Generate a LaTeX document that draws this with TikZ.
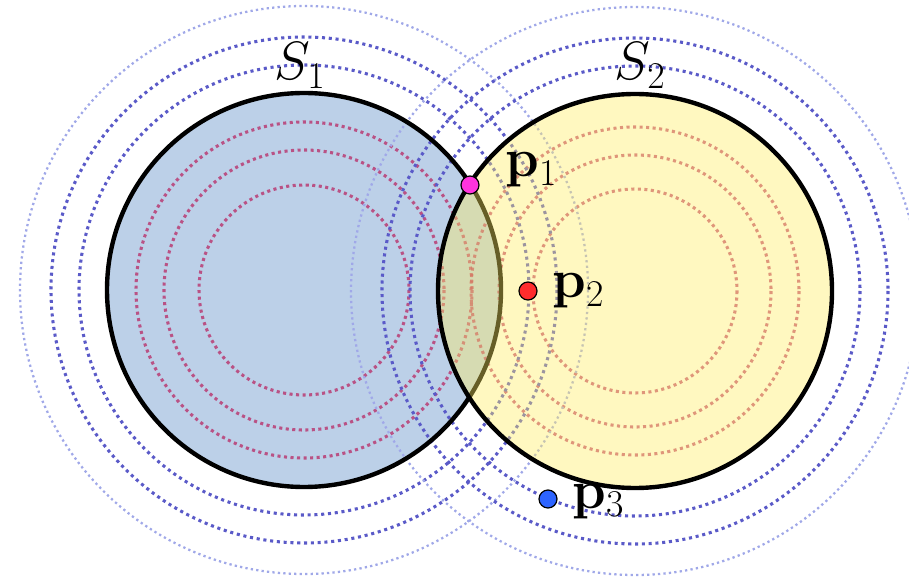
\RequirePackage{fix-cm}
\documentclass[tikz,border=0pt]{standalone}
\definecolor{sonefill}{RGB}{188,208,232}
\definecolor{stwofill}{RGB}{255,237,98}
\definecolor{reddot}{RGB}{185,40,100}
\definecolor{bluedark}{RGB}{90,90,200}
\definecolor{bluelight}{RGB}{160,168,232}
\definecolor{ponecol}{RGB}{255,51,221}
\definecolor{ptwocol}{RGB}{255,45,45}
\definecolor{pthreecol}{RGB}{45,100,255}
\tikzset{
  redring/.style={draw=reddot, draw opacity=0.75, line width=2.3pt, dash pattern=on 2.3pt off 2.6pt},
  bluering/.style={draw=bluedark, line width=2.3pt, dash pattern=on 2.3pt off 2.8pt},
  faintring/.style={draw=bluelight, line width=1.7pt, dash pattern=on 1.7pt off 2.4pt},
  border/.style={draw=black, line width=3.3pt},
  ptdot/.style={circle, draw=black, line width=0.9pt, minimum size=13.5pt, inner sep=0pt},
  lbl/.style={inner sep=0pt, font=\fontsize{40.5}{48}\selectfont},
}
\begin{document}
\begin{tikzpicture}[x=0.75pt,y=-0.75pt]
  \useasboundingbox (0,0) rectangle (909,580);
  \coordinate (c1) at (304,290);
  \coordinate (c2) at (635,291);
  % S1 fill
  \fill[sonefill] (c1) circle[radius=197];
  % red rings
  \foreach \r in {105,140,168} {\draw[redring] (c1) circle[radius=\r];}
  \foreach \r in {102,136,164} {\draw[redring] (c2) circle[radius=\r];}
  % blue rings
  \foreach \r in {225,253} {\draw[bluering] (c1) circle[radius=\r];}
  \draw[faintring] (c1) circle[radius=284];
  \foreach \r in {225,253} {\draw[bluering] (c2) circle[radius=\r];}
  \draw[faintring] (c2) circle[radius=284];
  % S1 border
  \draw[border] (c1) circle[radius=197];
  % S2 translucent fill and border
  \fill[stwofill, fill opacity=0.4] (c2) circle[radius=197];
  \draw[border] (c2) circle[radius=197];
  % points
  \node[ptdot, fill=ptwocol] (p2) at (528,291) {};
  \node[ptdot, fill=pthreecol] (p3) at (548,499) {};
  \node[ptdot, fill=ponecol] (p1) at (470,185) {};
  % labels
  \node[lbl, anchor=base] (S1lab) at (300,80) {$S_1$};
  \node[lbl, anchor=base] (S2lab) at (640,80) {$S_2$};
  \node[lbl, anchor=base west] (p1lab) at (505,177) {$\mathbf{p}_1$};
  \node[lbl, anchor=base west] (p2lab) at (552,298) {$\mathbf{p}_2$};
  \node[lbl, anchor=base west] (p3lab) at (572,508) {$\mathbf{p}_3$};
\end{tikzpicture}
\end{document}
